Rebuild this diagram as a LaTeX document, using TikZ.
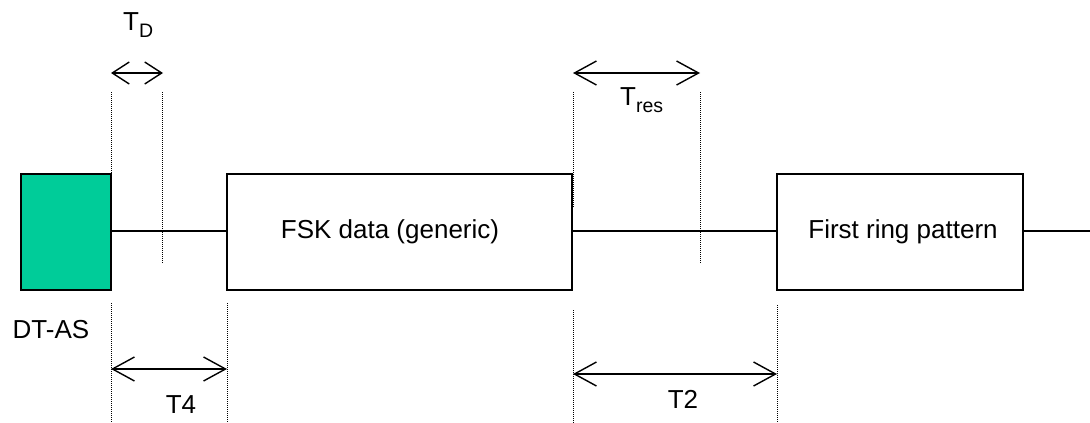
\documentclass[tikz,border=0pt]{standalone}
\usepackage{fontspec}
\setmainfont{Liberation Sans}
\usetikzlibrary{arrows.meta}
\definecolor{boxgreen}{HTML}{00CC99}
\tikzset{
  blockbox/.style={draw=black, line width=1.8pt, inner sep=0pt, minimum height=116pt},
  wire/.style={draw=black, line width=1.3pt},
  guide/.style={draw=black, line width=1pt, dash pattern=on 1pt off 1pt},
  span/.style={draw=black, line width=1.4pt, {Straight Barb[length=22pt,width=24pt,line width=1.4pt]}-{Straight Barb[length=22pt,width=24pt,line width=1.4pt]}},
  smallspan/.style={draw=black, line width=1.4pt, {Straight Barb[length=17pt,width=22pt,line width=1.4pt]}-{Straight Barb[length=17pt,width=22pt,line width=1.4pt]}},
  lbl/.style={inner sep=0pt, font=\fontsize{26}{30}\selectfont},
}
\newcommand{\subtxt}[1]{\raisebox{-7.5pt}{\fontsize{19.5}{22}\selectfont #1}}
\begin{document}
\begin{tikzpicture}[x=1pt,y=-1pt]
\useasboundingbox (0,0) rectangle (1090,423);
% blocks
\node[blockbox, fill=boxgreen, minimum width=90pt] (dtas) at (66,232) {};
\node[blockbox, minimum width=345pt] (fsk) at (399.5,232)
  {\makebox[0pt]{\hspace*{-19pt}\fontsize{26}{30}\selectfont FSK data (generic)}};
\node[blockbox, minimum width=246pt] (ring) at (900,232)
  {\fontsize{26}{30}\selectfont\hspace*{6pt}First ring pattern};
\coordinate (lineend) at (1090,231);
% wires
\draw[wire] (dtas.east |- 0,231) -- (fsk.west |- 0,231);
\draw[wire] (fsk.east |- 0,231) -- (ring.west |- 0,231);
\draw[wire] (ring.east |- 0,231) -- (lineend);
% guide coordinates
\coordinate (a1) at (111,92);  \coordinate (a2) at (111,173);
\coordinate (a3) at (111,303); \coordinate (a4) at (111,423);
\coordinate (b1) at (162,92);  \coordinate (b2) at (162,263);
\coordinate (c1) at (227,303); \coordinate (c2) at (227,423);
\coordinate (d1) at (573,92);  \coordinate (d2) at (573,207);
\coordinate (d3) at (573,310); \coordinate (d4) at (573,423);
\coordinate (e1) at (700,92);  \coordinate (e2) at (700,263);
\coordinate (f1) at (777,305); \coordinate (f2) at (777,423);
\draw[guide] (a1) -- (a2);
\draw[guide] (a3) -- (a4);
\draw[guide] (b1) -- (b2);
\draw[guide] (c1) -- (c2);
\draw[guide] (d1) -- (d2);
\draw[guide] (d3) -- (d4);
\draw[guide] (e1) -- (e2);
\draw[guide] (f1) -- (f2);
% spans
\coordinate (tdl) at (111,73);  \coordinate (tdr) at (163,73);
\coordinate (trl) at (573,73);  \coordinate (trr) at (700,73);
\coordinate (t4l) at (111,369); \coordinate (t4r) at (227,369);
\coordinate (t2l) at (573,374); \coordinate (t2r) at (777,374);
\draw[smallspan] (tdl) -- (tdr);
\draw[span] (trl) -- (trr);
\draw[span] (t4l) -- (t4r);
\draw[span] (t2l) -- (t2r);
% labels
\node[lbl, anchor=base west] (tdlabel) at (123,30) {T\subtxt{D}};
\node[lbl, anchor=base west] (treslabel) at (620,105) {T\subtxt{res}};
\node[lbl, anchor=base] (t4label) at (181,413) {T4};
\node[lbl, anchor=base] (t2label) at (683,408) {T2};
\node[lbl, anchor=base] (dtaslabel) at (51,338) {DT-AS};
\end{tikzpicture}
\end{document}
